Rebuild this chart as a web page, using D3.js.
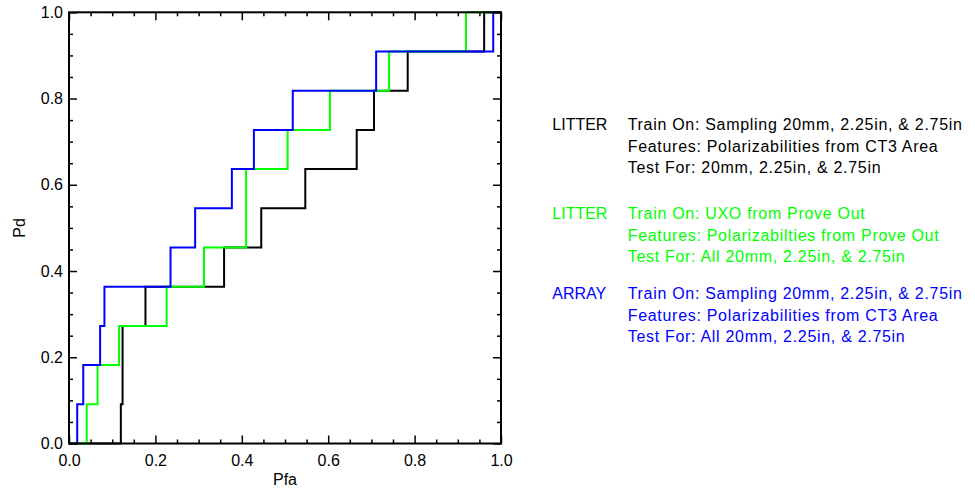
<!DOCTYPE html>
<html lang="en">
<head>
    <meta charset="UTF-8">
    <title>Pd vs Pfa</title>
    <script src="https://d3js.org/d3.v7.min.js"></script>
    <style>
        body {
            margin: 0;
            background: white;
            font-family: "Liberation Sans", Arial, sans-serif;
        }
        .tick text {
            font-size: 16px;
            font-family: "Liberation Sans", Arial, sans-serif;
        }
        .curve {
            fill: none;
            stroke-width: 2;
        }
        .note {
            letter-spacing: 0.7px;
        }
    </style>
</head>
<body>
    <svg id="chart" width="975" height="488"></svg>

    <script>
        // Data: Pfa where each step happens and Pd after it
        const litterCt3Pfa = [0, 0.120, 0.124, 0.177, 0.359, 0.445, 0.547, 0.666, 0.706, 0.784, 0.961, 1.0];
        const litterCt3Pd  = [0, 0.0909, 0.2727, 0.3636, 0.4545, 0.5455, 0.6364, 0.7273, 0.8182, 0.9091, 1.0, 1.0];

        const litterProvePfa = [0, 0.041, 0.066, 0.116, 0.226, 0.3125, 0.410, 0.506, 0.604, 0.741, 0.919, 1.0];
        const litterProvePd  = [0, 0.0909, 0.1818, 0.2727, 0.3636, 0.4545, 0.6364, 0.7273, 0.8182, 0.9091, 1.0, 1.0];

        const arrayCt3Pfa = [0, 0.019, 0.033, 0.072, 0.082, 0.235, 0.292, 0.377, 0.428, 0.518, 0.711, 0.982, 1.0];
        const arrayCt3Pd  = [0, 0.0909, 0.1818, 0.2727, 0.3636, 0.4545, 0.5455, 0.6364, 0.7273, 0.8182, 0.9091, 1.0, 1.0];

        const majorTicks = [0, 0.2, 0.4, 0.6, 0.8, 1.0];
        const minorTicks = [0.05, 0.1, 0.15, 0.25, 0.3, 0.35, 0.45, 0.5, 0.55, 0.65, 0.7, 0.75, 0.85, 0.9, 0.95];

        const seriesNames = ["LITTER", "LITTER", "ARRAY"];
        const seriesColors = ["#000000", "#00ff00", "#0000ff"];
        const seriesNotes = [
            ["Train On: Sampling 20mm, 2.25in, & 2.75in", "Features: Polarizabilities from CT3 Area", "Test For: 20mm, 2.25in, & 2.75in"],
            ["Train On: UXO from Prove Out", "Features: Polarizabilties from Prove Out", "Test For: All 20mm, 2.25in, & 2.75in"],
            ["Train On: Sampling 20mm, 2.25in, & 2.75in", "Features: Polarizabilities from CT3 Area", "Test For: All 20mm, 2.25in, & 2.75in"]
        ];

        // Layout
        const svg = d3.select("#chart");
        const plotLeft = 69, plotRight = 501, plotTop = 12.3, plotBottom = 443.5;

        const x = d3.scaleLinear().domain([0, 1]).range([plotLeft, plotRight]);
        const y = d3.scaleLinear().domain([0, 1]).range([plotBottom, plotTop]);

        // Curves (black first, blue on top)
        const series = [
            { pfa: litterCt3Pfa, pd: litterCt3Pd },
            { pfa: litterProvePfa, pd: litterProvePd },
            { pfa: arrayCt3Pfa, pd: arrayCt3Pd }
        ];

        const line = d3.line()
            .x(d => x(d[0]))
            .y(d => y(d[1]))
            .curve(d3.curveStepAfter);

        series.forEach((s, i) => {
            svg.append("path")
                .attr("class", "curve")
                .attr("stroke", seriesColors[i])
                .attr("d", line(s.pfa.map((v, j) => [v, s.pd[j]])));
        });

        // Axes with inward ticks on all four sides
        function drawAxis(axisFn, translate, scale, ticks, size, labels) {
            const a = axisFn(scale)
                .tickValues(ticks)
                .tickSizeInner(-size)
                .tickSizeOuter(0)
                .tickPadding(axisFn === d3.axisLeft ? 6 : 11)
                .tickFormat(labels ? d3.format(".1f") : "");
            const g = svg.append("g")
                .attr("transform", translate)
                .call(a);
            g.select(".domain").remove();
            g.selectAll(".tick line").attr("stroke", "black").attr("stroke-width", 1.5);
            g.selectAll(".tick text").attr("fill", "black");
        }

        drawAxis(d3.axisBottom, `translate(0,${plotBottom})`, x, majorTicks, 8, true);
        drawAxis(d3.axisBottom, `translate(0,${plotBottom})`, x, minorTicks, 4, false);
        drawAxis(d3.axisTop, `translate(0,${plotTop})`, x, majorTicks, 8, false);
        drawAxis(d3.axisTop, `translate(0,${plotTop})`, x, minorTicks, 4, false);
        drawAxis(d3.axisLeft, `translate(${plotLeft},0)`, y, majorTicks, 8, true);
        drawAxis(d3.axisLeft, `translate(${plotLeft},0)`, y, minorTicks, 4, false);
        drawAxis(d3.axisRight, `translate(${plotRight},0)`, y, majorTicks, 8, false);
        drawAxis(d3.axisRight, `translate(${plotRight},0)`, y, minorTicks, 4, false);

        // Frame
        svg.append("rect")
            .attr("x", plotLeft)
            .attr("y", plotTop)
            .attr("width", plotRight - plotLeft)
            .attr("height", plotBottom - plotTop)
            .attr("fill", "none")
            .attr("stroke", "black")
            .attr("stroke-width", 2);

        // Axis titles
        svg.append("text")
            .attr("x", (plotLeft + plotRight) / 2)
            .attr("y", 485)
            .attr("text-anchor", "middle")
            .attr("font-size", 16)
            .text("Pfa");

        svg.append("text")
            .attr("transform", `translate(25,${(plotTop + plotBottom) / 2}) rotate(-90)`)
            .attr("text-anchor", "middle")
            .attr("font-size", 16)
            .text("Pd");

        // Legend notes
        const groupBaselines = [130, 219, 299];
        const lineGap = 21.7;

        seriesNames.forEach((name, i) => {
            const g = svg.append("g").attr("fill", seriesColors[i]).attr("font-size", 16);
            g.append("text")
                .attr("x", 552.3)
                .attr("y", groupBaselines[i])
                .text(name);
            seriesNotes[i].forEach((t, j) => {
                g.append("text")
                    .attr("class", "note")
                    .attr("x", 627.7)
                    .attr("y", groupBaselines[i] + j * lineGap)
                    .text(t);
            });
        });
    </script>
</body>
</html>
